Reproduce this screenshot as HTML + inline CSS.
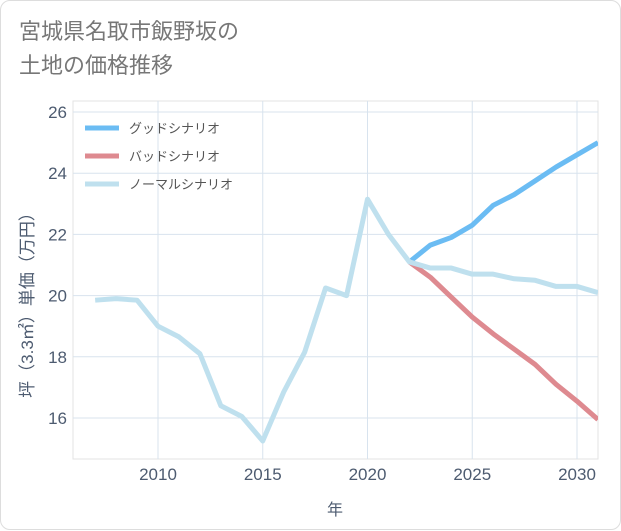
<!DOCTYPE html>
<html><head><meta charset="utf-8"><style>
body{margin:0;background:#fff;font-family:"Liberation Sans","Noto Sans CJK JP",sans-serif}
#card{position:absolute;left:0;top:0;width:619px;height:528px;border:1px solid #ddd;border-radius:10px;background:#fff}
#title{position:absolute;left:18px;top:14px;font-size:22px;line-height:34px;color:#777}
</style></head><body>
<div id="card">
<div id="title">宮城県名取市飯野坂の<br>土地の価格推移</div>
<svg id="chart" width="621" height="530" style="position:absolute;left:0;top:0"></svg>
</div>
<script>
const years=[2007,2008,2009,2010,2011,2012,2013,2014,2015,2016,2017,2018,2019,2020,2021,2022,2023,2024,2025,2026,2027,2028,2029,2030,2031];
const normal=[19.85,19.9,19.85,19.0,18.65,18.1,16.4,16.05,15.25,16.85,18.15,20.25,20.0,23.15,22.0,21.1,20.9,20.9,20.7,20.7,20.55,20.5,20.3,20.3,20.1];
const futureYears=[2022,2023,2024,2025,2026,2027,2028,2029,2030,2031];
const good=[21.1,21.65,21.9,22.3,22.95,23.3,23.75,24.2,24.6,25.0];
const bad=[21.1,20.6,19.95,19.3,18.75,18.25,17.75,17.1,16.55,15.95];
const xTicks=[2010,2015,2020,2025,2030];
const yTicks=[16,18,20,22,24,26];
const legendLabels=["グッドシナリオ","バッドシナリオ","ノーマルシナリオ"];
const colors=["#6bbcf3","#de8a90","#bfe0ee"];

const L=72,R=597,T=100,B=458;
const x=v=>157+(v-2010)*(576-157)/20;
const y=v=>417-(v-16)*(417-111)/10;
const svg=document.getElementById('chart');
const NS='http://www.w3.org/2000/svg';
const axisColor='#4d5b70';
function mk(tag,attrs,parent){const e=document.createElementNS(NS,tag);for(const k in attrs)e.setAttribute(k,attrs[k]);(parent||svg).appendChild(e);return e;}
const bg=mk('rect',{x:L,y:T,width:R-L,height:B-T,fill:'#fff',stroke:'#e3e3e3'});


xTicks.forEach(t=>{
 const g=mk('line',{x1:x(t),x2:x(t),y1:T,y2:B,stroke:'#d8e3ee'});
 
 
 const tx=mk('text',{x:x(t),y:479,'text-anchor':'middle','font-size':17,fill:axisColor});
 tx.textContent=t;
 
 
});
yTicks.forEach(t=>{
 const g=mk('line',{x1:L,x2:R,y1:y(t),y2:y(t),stroke:'#d8e3ee'});
 
 
 const tx=mk('text',{x:66,y:y(t)+6,'text-anchor':'end','font-size':17,fill:axisColor});
 tx.textContent=t;
 
 
});
function line(xs,vs,c,name){
 const p=mk('polyline',{points:xs.map((v,i)=>x(v)+','+y(vs[i])).join(' '),fill:'none',stroke:c,'stroke-width':5,'stroke-linejoin':'round'});
 
 
}
const clip=mk('clipPath',{id:'c'});mk('rect',{x:L,y:T,width:R-L,height:B-T},clip);
line(futureYears,good,colors[0],'good-scenario-line');
line(futureYears,bad,colors[1],'bad-scenario-line');
line(years,normal,colors[2],'normal-scenario-line');
svg.querySelectorAll('polyline').forEach(p=>p.setAttribute('clip-path','url(#c)'));
legendLabels.forEach((lab,i)=>{
 const ly=127+i*28;
 const l=mk('line',{x1:84,x2:118,y1:ly,y2:ly,stroke:colors[i],'stroke-width':5});
 
 
 const tx=mk('text',{x:128,y:ly+5,'font-size':13,fill:'#555'});
 tx.textContent=lab;
 
 
});
const xt=mk('text',{x:334,y:514,'text-anchor':'middle','font-size':16,fill:axisColor});
xt.textContent='年';


const yt=mk('text',{x:0,y:0,'text-anchor':'middle','font-size':17,fill:axisColor,transform:'translate(32,300) rotate(-90)'});
yt.textContent='坪（3.3㎡）単価（万円）';


</script>
</body></html>
